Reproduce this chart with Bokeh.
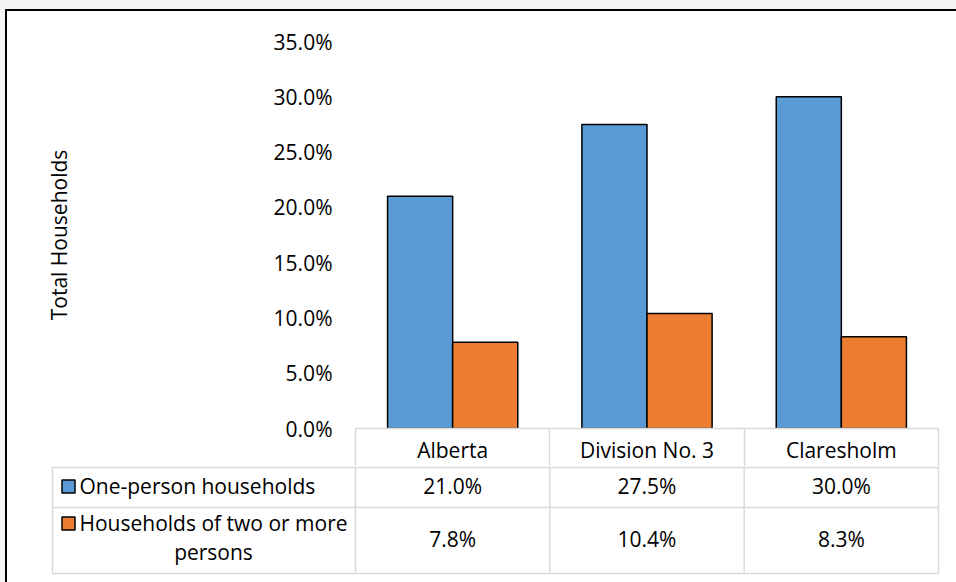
from bokeh.plotting import figure
from bokeh.models import Range1d, NumeralTickFormatter, FixedTicker, ColumnDataSource
from bokeh.transform import dodge
from bokeh.layouts import column
from bokeh.core.properties import value
from bokeh.embed import file_html
from bokeh.resources import INLINE

# ---------------- data ----------------
categories = ["Alberta", "Division No. 3", "Claresholm"]
series_names = ["One-person households", "Households of two or more persons"]
one_person = [0.210, 0.275, 0.300]
two_plus = [0.078, 0.104, 0.083]
y_ticks = [0.0, 0.05, 0.10, 0.15, 0.20, 0.25, 0.30, 0.35]

BLUE = "#5B9BD5"
ORANGE = "#ED7D31"
GRID = "#D9D9D9"
FONT = "Open Sans"
FS = "21px"

# ---------------- layout constants (pixels) ----------------
OX = 7             # page x where figures start (after padding + border)
W = 956 - OX
FRAME_L = 355 - OX
FRAME_R = 18
TOP = 30
FRAME_H = 388
HEADER_H = 37
n = len(categories)
unit = (W - FRAME_L - FRAME_R) / n   # pixels per category

idx = list(range(n))
src = ColumnDataSource(dict(x=idx, one=one_person, two=two_plus, cat=categories))

# ---------------- chart (with header row as x axis) ----------------
p = figure(width=W, height=TOP + FRAME_H + HEADER_H, output_backend="svg", toolbar_location=None,
           x_range=Range1d(-0.5, n - 0.5), y_range=Range1d(0, 0.35),
           min_border_left=FRAME_L, min_border_right=FRAME_R,
           min_border_top=TOP, min_border_bottom=HEADER_H)
p.frame_align = False
p.outline_line_color = None
p.xgrid.visible = False
p.ygrid.visible = False
p.background_fill_color = "white"
p.border_fill_color = "white"

p.vbar(x=dodge("x", -0.1675, range=p.x_range), top="one", width=0.335, bottom=0, source=src,
       fill_color=BLUE, line_color="black", line_width=1.5)
p.vbar(x=dodge("x", 0.1675, range=p.x_range), top="two", width=0.335, bottom=0, source=src,
       fill_color=ORANGE, line_color="black", line_width=1.5)

ya = p.yaxis[0]
ya.ticker = FixedTicker(ticks=y_ticks)
ya.formatter = NumeralTickFormatter(format="0.0%")
ya.axis_line_color = None
ya.major_tick_line_color = None
ya.minor_tick_line_color = None
ya.major_tick_out = 0
ya.major_tick_in = 0
ya.minor_tick_out = 0
ya.major_label_standoff = 23
ya.major_label_text_font = FONT
ya.major_label_text_font_size = FS
ya.major_label_text_color = "black"
ya.axis_label = "Total Households"
ya.axis_label_text_font = FONT
ya.axis_label_text_font_size = FS
ya.axis_label_text_font_style = "normal"
ya.axis_label_text_color = "black"
ya.axis_label_standoff = 198

xa = p.xaxis[0]
xa.ticker = FixedTicker(ticks=idx, minor_ticks=[i - 0.5 for i in range(n + 1)])
xa.major_label_overrides = {i: c for i, c in zip(idx, categories)}
xa.axis_line_color = GRID
xa.axis_line_width = 1.5
xa.major_tick_line_color = None
xa.major_tick_out = 0
xa.major_tick_in = 0
xa.minor_tick_line_color = GRID
xa.minor_tick_line_width = 1.5
xa.minor_tick_out = HEADER_H
xa.minor_tick_in = 0
xa.major_label_standoff = -30
xa.axis_label_standoff = 0
xa.major_label_text_font = FONT
xa.major_label_text_font_size = FS
xa.major_label_text_color = "black"

# ---------------- data table body ----------------
TH = 116
t = figure(width=W, height=TH, output_backend="svg", toolbar_location=None,
           x_range=Range1d(-0.5 - FRAME_L / unit, n - 0.5 + FRAME_R / unit),
           y_range=Range1d(-TH, 0),
           min_border=0)
t.frame_align = False
t.outline_line_color = None
t.axis.visible = False
t.grid.visible = False
t.border_fill_color = "white"
t.background_fill_color = "white"

def px_to_x(page_x):
    return -0.5 - (355 - page_x) / unit

x_left = px_to_x(52)     # table's left edge
rows = [-1, -41, -107]
t.segment(x0=[x_left] * 3, y0=rows, x1=[n - 0.5] * 3, y1=rows,
          line_color=GRID, line_width=1.5)
vx = [x_left] + [i - 0.5 for i in range(n + 1)]
t.segment(x0=vx, y0=[0] * len(vx), x1=vx, y1=[rows[-1]] * len(vx),
          line_color=GRID, line_width=1.5)

tsrc = ColumnDataSource(dict(
    x=idx,
    one=[f"{v*100:.1f}%" for v in one_person],
    two=[f"{v*100:.1f}%" for v in two_plus]))
common = dict(text_font=value(FONT), text_font_size=FS, text_color="black",
              text_align="center", text_baseline="middle")
t.text(x="x", y=-19, text="one", source=tsrc, **common)
t.text(x="x", y=-72, text="two", source=tsrc, **common)

# legend keys
t.scatter(x=[px_to_x(68)] * 2, y=[-20, -57], marker="square", size=13,
          fill_color=[BLUE, ORANGE], line_color="black", line_width=1.5)
left_txt = dict(text_font=value(FONT), text_font_size=FS, text_color="black",
                text_align="left", text_baseline="middle")
t.text(x=[px_to_x(79)], y=[-19], text=[series_names[0]], **left_txt)
t.text(x=[px_to_x(79)], y=[-56], text=["Households of two or more"], **left_txt)
t.text(x=[px_to_x(213)], y=[-85], text=["persons"], **common)

inner = column(p, t, spacing=0,
               styles={"border-top": "2px solid black", "border-left": "2px solid black",
                       "background-color": "white"})
outer = column(inner, styles={"padding-left": "5px", "padding-top": "9px",
                              "background-color": "#F4F6F4"})

open("out.html", "w").write(file_html(outer, INLINE))
